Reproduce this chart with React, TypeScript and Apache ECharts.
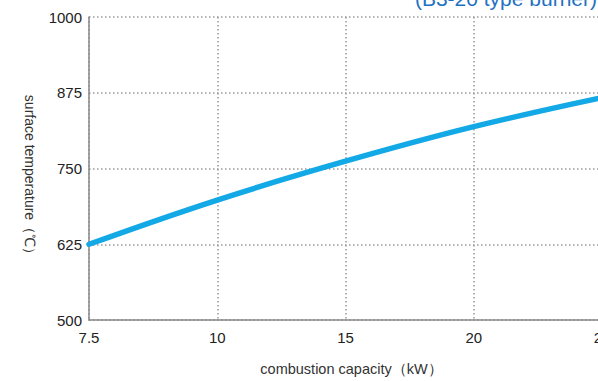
import React, { useEffect, useRef } from "react";
import * as echarts from "echarts";

const categories = ["7.5", "10", "15", "20", "25"];
const temperatures = [625, 698, 762, 819, 867];
const yTicks = { min: 500, max: 1000, interval: 125 };
const titleText = "(B3-20 type burner)";
const xName = "combustion capacity（kW）";
const yName = "surface temperature（℃）";

const FONT = "'Liberation Sans', Arial, sans-serif";

export default function App() {
  const ref = useRef<HTMLDivElement>(null);
  useEffect(() => {
    if (!ref.current) return;
    const chart = echarts.init(ref.current, null, { renderer: "svg" });
    chart.setOption({
      animation: false,
      backgroundColor: "#ffffff",
      grid: { left: 89, right: 18, top: 17, bottom: 55, containLabel: false },
      graphic: [
        {
          type: "text",
          right: 23,
          top: -12,
          style: {
            text: titleText,
            fill: "#1f72c2",
            font: `21px ${FONT}`,
          },
        },
        {
          type: "text",
          x: 30,
          y: 178,
          rotation: -Math.PI / 2,
          style: {
            text: yName,
            fill: "#333",
            font: `14px ${FONT}`,
            align: "center",
            verticalAlign: "middle",
          },
        },
      ],
      xAxis: {
        type: "category",
        data: categories,
        boundaryGap: false,
        name: xName,
        nameLocation: "middle",
        nameGap: 41,
        nameTextStyle: {
          fontFamily: FONT,
          fontSize: 14.5,
          color: "#333",
          padding: [0, 0, 0, 12],
        },
        axisLine: { show: true, lineStyle: { color: "#888", width: 1.5 } },
        axisTick: { show: false },
        axisLabel: { fontFamily: FONT, fontSize: 15, color: "#222", margin: 10 },
        splitLine: {
          show: true,
          lineStyle: { color: "#999", width: 1.5, type: [1.5, 2.5] },
        },
      },
      yAxis: {
        type: "value",
        min: yTicks.min,
        max: yTicks.max,
        interval: yTicks.interval,
        axisLine: { show: true, lineStyle: { color: "#888", width: 1.5 } },
        axisTick: { show: false },
        axisLabel: {
          fontFamily: FONT,
          fontSize: 15,
          color: "#222",
          margin: 7,
          formatter: (v: number) => String(v),
        },
        splitLine: {
          show: true,
          lineStyle: { color: "#999", width: 1.5, type: [1.5, 2.5] },
        },
      },
      series: [
        {
          type: "line",
          data: temperatures,
          smooth: 0.4,
          symbol: "none",
          lineStyle: { color: "#12a9e6", width: 5.5, cap: "round" },
        },
      ],
    });
    return () => chart.dispose();
  }, []);
  return (
    <div
      ref={ref}
      style={{ position: "fixed", left: 0, top: 0, width: 620, height: 381 }}
    />
  );
}
